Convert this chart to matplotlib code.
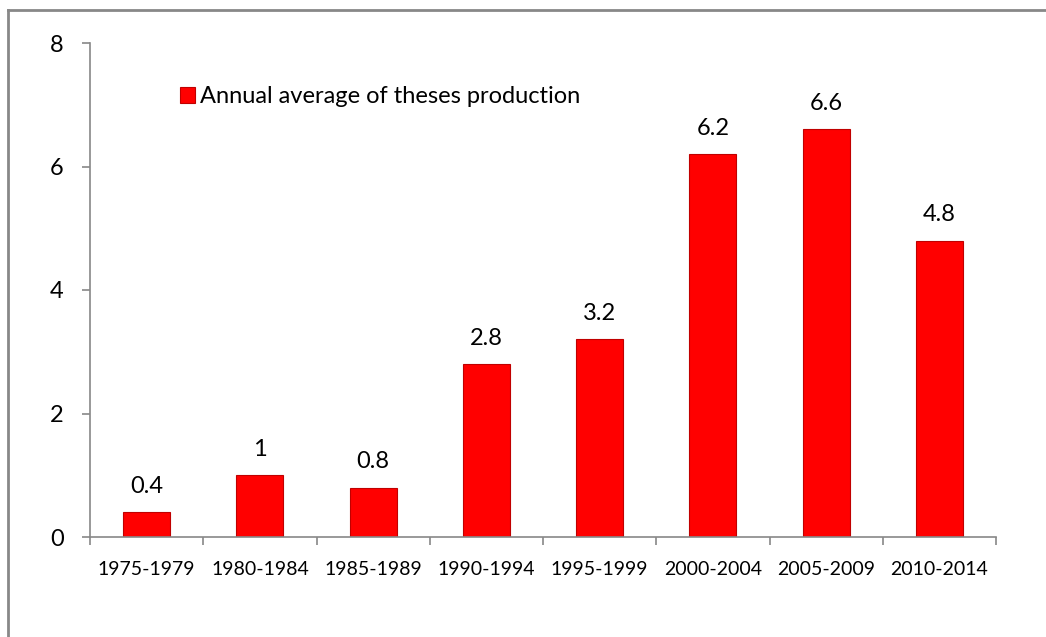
import matplotlib.pyplot as plt
from matplotlib.lines import Line2D

periodos = ["1975-1979", "1980-1984", "1985-1989", "1990-1994",
            "1995-1999", "2000-2004", "2005-2009", "2010-2014"]
promedio = [0.4, 1, 0.8, 2.8, 3.2, 6.2, 6.6, 4.8]
etiquetas = ["0.4", "1", "0.8", "2.8", "3.2", "6.2", "6.6", "4.8"]
yticks = [0, 2, 4, 6, 8]

plt.rcParams['font.family'] = ['Lato', 'DejaVu Sans']

W, H = 1046, 637
fig = plt.figure(figsize=(W / 100, H / 100), dpi=100)
ax = fig.add_axes([90 / W, 1 - 537 / H, (996 - 90) / W, (537 - 43) / H])

x = list(range(len(periodos)))
ax.bar(x, promedio, width=0.415, color='#ff0000', edgecolor='#c00000',
       linewidth=0.8, label='Annual average of theses production')

for xi, v, t in zip(x, promedio, etiquetas):
    ax.text(xi, v + 0.42, t, ha='center', va='center', fontsize=17)

ax.set_xlim(-0.5, len(periodos) - 0.5)
ax.set_ylim(0, 8)
ax.set_yticks(yticks)
ax.set_yticklabels([str(t) for t in yticks], fontsize=17)
ax.set_xticks(x)
ax.set_xticklabels(periodos, fontsize=14)
ax.set_xticks([i - 0.5 for i in range(len(periodos) + 1)], minor=True)
ax.tick_params(axis='x', which='major', length=0, pad=17)
ax.tick_params(axis='x', which='minor', length=6, color='#888888', width=1.2)
ax.tick_params(axis='y', length=6, color='#888888', width=1.2, pad=13)

for s in ['top', 'right']:
    ax.spines[s].set_visible(False)
for s in ['left', 'bottom']:
    ax.spines[s].set_color('#888888')
    ax.spines[s].set_linewidth(1.2)

ax.legend(loc='upper left', bbox_to_anchor=(0.099, 0.912), frameon=False,
          fontsize=17, handlelength=0.65, handleheight=0.65, handletextpad=0.2,
          borderaxespad=0, borderpad=0)

# marco gris de la figura
fig.add_artist(Line2D([8 / W, 8 / W], [0, 1 - 10 / H], color='#888888', lw=2,
                      transform=fig.transFigure))
fig.add_artist(Line2D([8 / W, 1], [1 - 10 / H, 1 - 10 / H], color='#888888', lw=2,
                      transform=fig.transFigure))

fig.savefig('out.png', dpi=100)
